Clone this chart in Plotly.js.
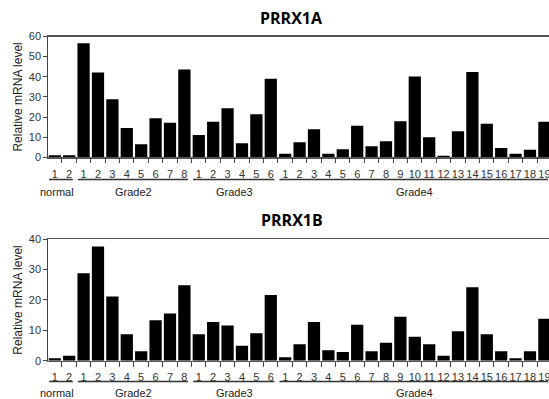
<!DOCTYPE html>
<html>
<head>
<meta charset="utf-8">
<script src="https://cdn.plot.ly/plotly-3.0.1.min.js"></script>
<style>html,body{margin:0;padding:0;overflow:hidden;background:#fff;}#chart{width:549px;height:399px;}</style>
</head>
<body>
<div id="chart"></div>
<script>
// ---- data ----
const groupNames = ['normal', 'Grade2', 'Grade3', 'Grade4'];
const groupSizes = [2, 8, 6, 19];
const sampleLabels = ['1','2',
  '1','2','3','4','5','6','7','8',
  '1','2','3','4','5','6',
  '1','2','3','4','5','6','7','8','9','10','11','12','13','14','15','16','17','18','19'];
const prrx1a = [1.0, 1.0,
  56.7, 42.1, 28.8, 14.6, 6.5, 19.4, 17.2, 43.6,
  11.1, 17.6, 24.4, 7.0, 21.4, 39.0,
  1.8, 7.5, 13.9, 1.8, 4.0, 15.7, 5.5, 8.0, 17.9, 40.1, 9.9, 0.8, 12.9, 42.4, 16.7, 4.6, 1.8, 3.8, 17.6];
const prrx1b = [0.8, 1.6,
  28.8, 37.6, 21.1, 8.7, 3.1, 13.3, 15.5, 24.8,
  8.7, 12.7, 11.6, 4.9, 9.0, 21.6,
  1.1, 5.4, 12.7, 3.4, 2.9, 11.8, 3.1, 5.9, 14.5, 7.9, 5.4, 1.6, 9.7, 24.2, 8.7, 3.1, 0.8, 3.1, 13.8];
const titles = ['PRRX1A', 'PRRX1B'];
const yTitle = 'Relative mRNA level';

// ---- build ----
const idx = sampleLabels.map((_, i) => i);
const boundaries = idx.map(i => i - 0.5).concat([idx.length - 0.5]);
const xRange = [-0.45, 34.32];
const xDomain = [48.3 / 549, 1];
const textFont = {family: 'Liberation Sans, Arial, sans-serif', size: 11, color: '#333'};

const traces = [
  {type: 'bar', x: idx, y: prrx1a, xaxis: 'x', yaxis: 'y', marker: {color: '#000', line: {width: 0}}, hoverinfo: 'skip'},
  {type: 'bar', x: idx, y: prrx1b, xaxis: 'x2', yaxis: 'y2', marker: {color: '#000', line: {width: 0}}, hoverinfo: 'skip'},
  {type: 'scatter', x: [], y: [], xaxis: 'x3', yaxis: 'y', showlegend: false},
  {type: 'scatter', x: [], y: [], xaxis: 'x4', yaxis: 'y2', showlegend: false}
];

function labelAxis(anchor) {
  return {
    anchor: anchor, domain: xDomain, range: xRange, fixedrange: true,
    tickmode: 'array', tickvals: idx, ticktext: sampleLabels,
    ticks: 'outside', ticklen: 6, tickcolor: 'rgba(0,0,0,0)',
    tickfont: textFont, ticklabeloverflow: 'allow', showgrid: false, zeroline: false,
    showline: true, linecolor: '#555', linewidth: 1.3, mirror: true
  };
}
function tickAxis(anchor, over) {
  return {
    anchor: anchor, overlaying: over, domain: xDomain, range: xRange, fixedrange: true,
    tickmode: 'array', tickvals: boundaries, showticklabels: false,
    ticks: 'outside', ticklen: 5, tickwidth: 1, tickcolor: '#444',
    showgrid: false, zeroline: false, showline: false
  };
}
function yAxis(anchor, domain, range, dtick) {
  return {
    anchor: anchor, domain: domain, range: range, dtick: dtick, fixedrange: true,
    ticks: 'outside', ticklen: 4, tickcolor: '#444', tickfont: textFont,
    showgrid: false, zeroline: false, showline: true, linecolor: '#444', linewidth: 1,
    title: {text: yTitle, font: {family: 'Liberation Sans, Arial, sans-serif', size: 12, color: '#222'}, standoff: 3}
  };
}

const shapes = [];
const annotations = [];
const lineY = [(399 - 179.5) / 399, (399 - 381.5) / 399];
const grpY = [(399 - 191.7) / 399, (399 - 392.7) / 399];
let start = 0;
groupNames.forEach((g, k) => {
  const first = start, last = start + groupSizes[k] - 1;
  const center = (first + last) / 2 - (k === 0 ? 0.35 : 0);
  for (let p = 0; p < 2; p++) {
    shapes.push({type: 'line', xref: 'x', yref: 'paper', x0: first - 0.4, x1: last + 0.25,
      y0: lineY[p], y1: lineY[p], line: {color: '#333', width: 1.5}});
    annotations.push({xref: 'x', yref: 'paper', x: center, y: grpY[p], text: g, showarrow: false,
      xanchor: 'center', yanchor: 'middle', font: {family: 'Liberation Sans, Arial, sans-serif', size: 11, color: '#222'}});
  }
  start += groupSizes[k];
});
const titleY = [(399 - 17.5) / 399, (399 - 220.5) / 399];
titles.forEach((t, p) => {
  annotations.push({xref: 'paper', yref: 'paper', x: 291.7 / 549, y: titleY[p], text: '<b>' + t + '</b>',
    showarrow: false, xanchor: 'center', yanchor: 'middle',
    font: {family: 'Open Sans, sans-serif', size: 16, color: '#000'}});
});

const layout = {
  width: 549, height: 399,
  margin: {l: 0, r: 0, t: 0, b: 0, pad: 0},
  paper_bgcolor: '#fff', plot_bgcolor: '#fff',
  showlegend: false, bargap: 0.15,
  xaxis: labelAxis('y'),
  xaxis2: labelAxis('y2'),
  xaxis3: tickAxis('y', 'x'),
  xaxis4: tickAxis('y2', 'x2'),
  yaxis: yAxis('x', [(399 - 157.3) / 399, (399 - 36.5) / 399], [0, 60], 10),
  yaxis2: yAxis('x2', [(399 - 360.7) / 399, (399 - 239.2) / 399], [0, 40], 10),
  shapes: shapes, annotations: annotations
};

Plotly.newPlot('chart', traces, layout, {staticPlot: true, displayModeBar: false});
</script>
</body>
</html>
